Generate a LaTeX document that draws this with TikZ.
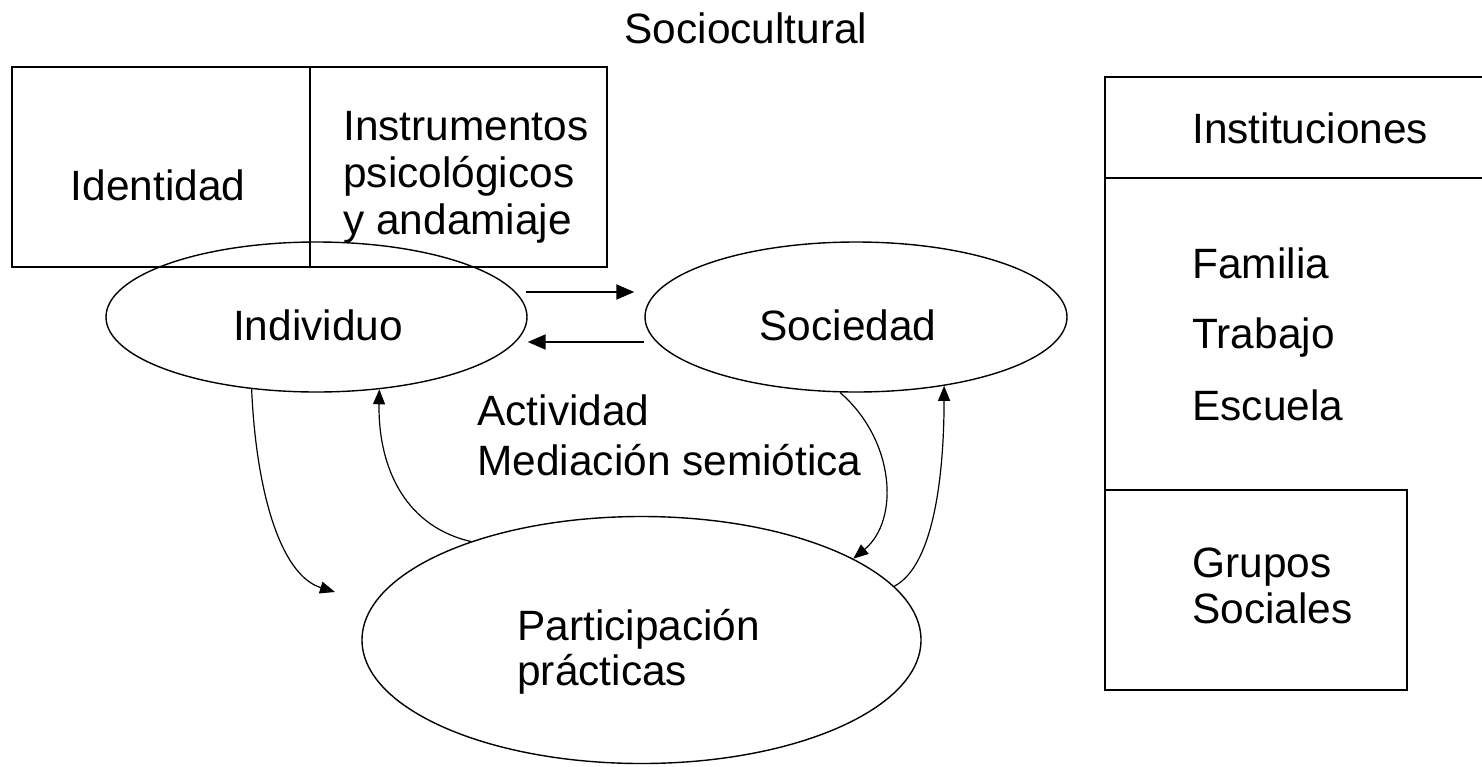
\documentclass[tikz,border=0pt]{standalone}
\usepackage{fontspec}
\setmainfont{Liberation Sans}
\usetikzlibrary{arrows.meta,shapes.geometric}
\begin{document}
\begin{tikzpicture}[x=0.5pt,y=-0.5pt,
  txt/.style={inner sep=0pt, font=\fontsize{21.2pt}{23.5pt}\selectfont},
  lt/.style={txt, anchor=base west},
  ct/.style={txt, anchor=base},
  ell/.style={draw, ellipse, inner sep=0pt, line width=0.7pt},
  boxline/.style={line width=0.9pt},
  conn/.style={line width=0.6pt, -{Triangle[length=7.5pt,width=6pt]}},
  harrow/.style={line width=1pt, -{Triangle[length=9pt,width=7.5pt]}}]
\useasboundingbox (0,0) rectangle (1482,766);
% boxes
\draw[boxline] (12,67) rectangle (607,267);
\draw[boxline] (310,67) -- (310,267);
\draw[boxline] (1482,77) -- (1105,77) -- (1105,690) -- (1407,690) -- (1407,490) -- (1105,490);
\draw[boxline] (1105,178) -- (1482,178);
% ellipses
\node[ell, minimum width=210.5pt, minimum height=75pt] (ind) at (316.5,317) {};
\node[ell, minimum width=211pt, minimum height=75pt] (soc) at (856,317) {};
\node[ell, minimum width=279.5pt, minimum height=123.5pt] (par) at (641.5,640) {};
% texts
\node[ct] (t0) at (746,43) {Sociocultural};
\node[ct] (t1) at (158,200) {Identidad};
\node[lt] (t2) at (343,140) {Instrumentos};
\node[lt] (t3) at (343,187) {psicológicos};
\node[lt] (t4) at (343,234) {y andamiaje};
\node[ct] (t5) at (318,340) {Individuo};
\node[ct] (t6) at (848,340) {Sociedad};
\node[lt] (t7) at (477,425) {Actividad};
\node[lt] (t8) at (477,475) {Mediación semiótica};
\node[lt] (t9) at (517,640) {Participación};
\node[lt] (t10) at (517,685) {prácticas};
\node[lt] (t11) at (1192,143) {Instituciones};
\node[lt] (t12) at (1192,278) {Familia};
\node[lt] (t13) at (1192,348) {Trabajo};
\node[lt] (t14) at (1192,420) {Escuela};
\node[lt] (t15) at (1192,577) {Grupos};
\node[lt] (t16) at (1192,623) {Sociales};
% connectors
\draw[harrow] ([xshift=-0.75pt,yshift=12.5pt]ind.east) -- ([xshift=-5pt,yshift=12.5pt]soc.west);
\draw[harrow] ([yshift=-12.5pt]soc.west) -- ([yshift=-12.5pt]ind.east);
\coordinate (c1end) at (335,592);
\draw[conn] (ind.228) .. controls (256,490) and (280,575) .. (c1end);
\draw[conn] (par.150) .. controls (400,525) and (378,460) .. (ind.311);
\draw[conn] (soc.258) .. controls (895,440) and (900,520) .. (par.21);
\draw[conn] (par.12) .. controls (935,565) and (944,470) .. (soc.322);
\end{tikzpicture}
\end{document}
